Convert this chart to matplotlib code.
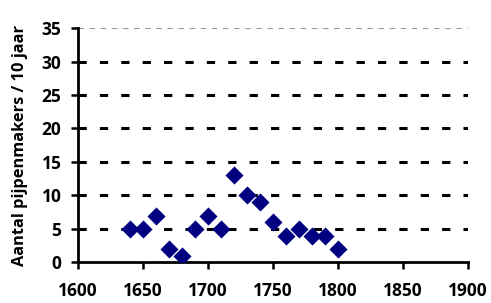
import matplotlib
matplotlib.use("Agg")
import matplotlib.pyplot as plt

years = [1640, 1650, 1660, 1670, 1680, 1690, 1700, 1710, 1720,
         1730, 1740, 1750, 1760, 1770, 1780, 1790, 1800]
makers = [5, 5, 7, 2, 1, 5, 7, 5, 13, 10, 9, 6, 4, 5, 4, 4, 2]
xticks = [1600, 1650, 1700, 1750, 1800, 1850, 1900]
yticks = [0, 5, 10, 15, 20, 25, 30, 35]

plt.rcParams["font.family"] = ["Open Sans", "DejaVu Sans"]

fig = plt.figure(figsize=(4.91, 3.03), dpi=100)
ax = fig.add_axes([0.159, 0.134, 0.7935, 0.7735])

# gridlines (top one is the thin grey plot-area border)
for y in yticks[1:-1]:
    ax.axhline(y, color="black", lw=2.2, dashes=(2.7, 4.3), zorder=1)
ax.axhline(35, color="#999999", lw=0.8, dashes=(5, 5), zorder=1)

ax.scatter(years, makers, marker="D", s=85, color="#000080", zorder=3, linewidths=0)

ax.set_xlim(1600, 1900)
ax.set_ylim(0, 35)
ax.set_xticks(xticks)
ax.set_yticks(yticks)
ax.tick_params(axis="both", labelsize=12.5, width=1.8, length=5, direction="out")
ax.tick_params(axis="x", pad=9)
ax.tick_params(axis="y", pad=7)
for lbl in ax.get_xticklabels() + ax.get_yticklabels():
    lbl.set_fontweight("bold")
for s in ["top", "right"]:
    ax.spines[s].set_visible(False)
for s in ["left", "bottom"]:
    ax.spines[s].set_linewidth(2)
ax.set_ylabel("Aantal pijpenmakers / 10 jaar", fontsize=11.8, fontweight="bold", labelpad=10)

plt.savefig("out.png", dpi=100)
